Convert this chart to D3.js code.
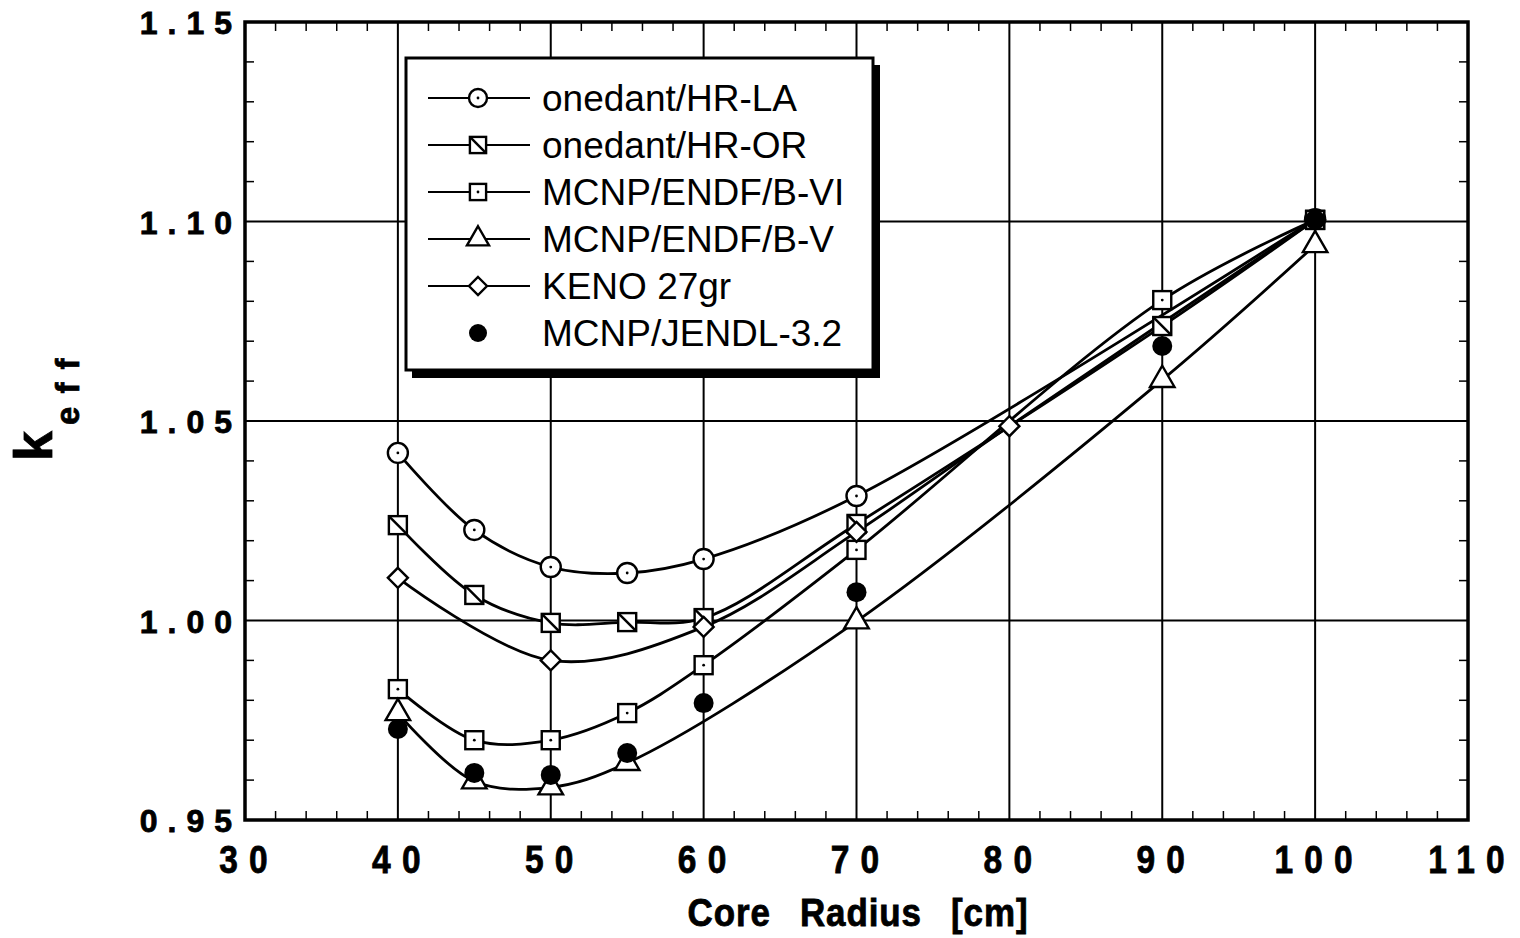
<!DOCTYPE html>
<html lang="en">
<head>
<meta charset="utf-8">
<title>keff vs core radius</title>
<script src="https://d3js.org/d3.v7.min.js"></script>
<style>
body { margin: 0; background: #fff; }
.tick-label { font-family: "Liberation Sans", Arial, sans-serif; font-weight: bold; fill: #000; stroke: #000; stroke-width: 0.8px; }
.legend text { font-family: "Liberation Sans", Arial, sans-serif; font-size: 37px; }
</style>
</head>
<body>
<script>
// radius [cm] and keff for each calculation
var hrLaX = [40, 45, 50, 55, 60, 70, 100];
var hrLaY = [1.0420, 1.0227, 1.0134, 1.0119, 1.0154, 1.0312, 1.1006];
var hrOrX = [40, 45, 50, 55, 60, 70, 90, 100];
var hrOrY = [1.0239, 1.0064, 0.9994, 0.9996, 1.0006, 1.0242, 1.0738, 1.1004];
var b6X = [40, 45, 50, 55, 60, 70, 90, 100];
var b6Y = [0.9828, 0.9700, 0.9700, 0.9768, 0.9888, 1.0177, 1.0803, 1.1004];
var b5X = [40, 45, 50, 55, 70, 90, 100];
var b5Y = [0.9768, 0.9597, 0.9582, 0.9643, 0.9998, 1.0603, 1.0941];
var kenoX = [40, 50, 60, 70, 80, 100];
var kenoY = [1.0107, 0.9900, 0.9984, 1.0222, 1.0487, 1.1004];
var jendlX = [40, 45, 50, 55, 60, 70, 90, 100];
var jendlY = [0.9728, 0.9618, 0.9613, 0.9668, 0.9793, 1.0071, 1.0688, 1.1004];

var xTicks = [30, 40, 50, 60, 70, 80, 90, 100, 110];
var yTicks = [0.95, 1.00, 1.05, 1.10, 1.15];

var seriesNames = ["onedant/HR-LA", "onedant/HR-OR", "MCNP/ENDF/B-VI", "MCNP/ENDF/B-V", "KENO 27gr", "MCNP/JENDL-3.2"];

function zip(xs, ys) { return xs.map(function(d, i) { return [d, ys[i]]; }); }

var series = [
  {name: seriesNames[0], marker: "circle", line: true, pts: zip(hrLaX, hrLaY)},
  {name: seriesNames[1], marker: "sqdiag", line: true, pts: zip(hrOrX, hrOrY)},
  {name: seriesNames[2], marker: "sqdot", line: true, pts: zip(b6X, b6Y)},
  {name: seriesNames[3], marker: "triangle", line: true, pts: zip(b5X, b5Y)},
  {name: seriesNames[4], marker: "diamond", line: true, pts: zip(kenoX, kenoY)},
  {name: seriesNames[5], marker: "filled", line: false, pts: zip(jendlX, jendlY)}
];

var W = 1520, H = 938;
var pL = 245, pR = 1468, pT = 22, pB = 820;

var svg = d3.select("body").append("svg").attr("width", W).attr("height", H);

var x = d3.scaleLinear().domain([30, 110]).range([pL, pR]);
var y = d3.scaleLinear().domain([0.95, 1.15]).range([pB, pT]);

// grid
svg.append("g").selectAll("line").data(xTicks.slice(1, -1)).enter().append("line")
  .attr("x1", function(d) { return x(d); }).attr("x2", function(d) { return x(d); })
  .attr("y1", pT).attr("y2", pB).attr("stroke", "#000").attr("stroke-width", 2);
svg.append("g").selectAll("line").data(yTicks.slice(1, -1)).enter().append("line")
  .attr("y1", function(d) { return y(d); }).attr("y2", function(d) { return y(d); })
  .attr("x1", pL).attr("x2", pR).attr("stroke", "#000").attr("stroke-width", 2);

// minor ticks on all four sides
var xMinor = d3.range(32, 110, 2).filter(function(d) { return d % 10 !== 0; });
var yMinor = d3.range(96, 115).filter(function(d) { return d % 5 !== 0; }).map(function(d) { return d / 100; });
var tk = svg.append("g").attr("stroke", "#000").attr("stroke-width", 1.5);
xMinor.forEach(function(d) {
  tk.append("line").attr("x1", x(d)).attr("x2", x(d)).attr("y1", pB).attr("y2", pB - 9);
  tk.append("line").attr("x1", x(d)).attr("x2", x(d)).attr("y1", pT).attr("y2", pT + 9);
});
yMinor.forEach(function(d) {
  tk.append("line").attr("y1", y(d)).attr("y2", y(d)).attr("x1", pL).attr("x2", pL + 9);
  tk.append("line").attr("y1", y(d)).attr("y2", y(d)).attr("x1", pR).attr("x2", pR - 9);
});

// frame
svg.append("rect").attr("x", pL).attr("y", pT).attr("width", pR - pL).attr("height", pB - pT)
  .attr("fill", "none").attr("stroke", "#000").attr("stroke-width", 3.5);

// tick labels
svg.append("g").selectAll("text").data(yTicks).enter().append("text")
  .attr("class", "tick-label")
  .attr("x", 242).attr("y", function(d) { return y(d) + 12; })
  .attr("text-anchor", "end").attr("font-size", 32).attr("letter-spacing", "10px")
  .text(function(d) { return d3.format(".2f")(d); });

svg.append("g").selectAll("text").data(xTicks).enter().append("text")
  .attr("class", "tick-label")
  .attr("transform", function(d) { return "translate(" + (x(d) + 4) + ",873) scale(0.86,1)"; })
  .attr("text-anchor", "middle").attr("font-size", 39).attr("letter-spacing", "13px")
  .text(function(d) { return String(d); });

svg.append("text").attr("class", "tick-label")
  .attr("transform", "translate(858,926) scale(0.92,1)")
  .attr("text-anchor", "middle").attr("font-size", 38)
  .attr("letter-spacing", "1px").attr("word-spacing", "20px")
  .text("Core Radius [cm]");

// y title k_eff
var yt = svg.append("text").attr("class", "tick-label")
  .attr("transform", "translate(52,461) rotate(-90)");
yt.append("tspan").attr("font-size", 54).text("k");
yt.append("tspan").attr("font-size", 33).attr("dy", 27).attr("dx", 6).attr("letter-spacing", "13px").text("eff");

// curves
var line = d3.line()
  .x(function(d) { return x(d[0]); })
  .y(function(d) { return y(d[1]); })
  .curve(d3.curveCatmullRom.alpha(0.5));

svg.append("g").selectAll("path").data(series.filter(function(s) { return s.line; })).enter()
  .append("path").attr("d", function(s) { return line(s.pts); })
  .attr("fill", "none").attr("stroke", "#000").attr("stroke-width", 2.8);

function drawMarker(g, type, sc) {
  var sw = 2.4, k = sc || 1;
  if (type === "circle") {
    g.append("circle").attr("r", 10 * k).attr("fill", "#fff").attr("stroke", "#000").attr("stroke-width", sw);
    g.append("circle").attr("r", 1.4).attr("fill", "#000");
  } else if (type === "sqdiag" || type === "sqdot") {
    var h = 9 * k;
    g.append("rect").attr("x", -h).attr("y", -h).attr("width", 2 * h).attr("height", 2 * h)
      .attr("fill", "#fff").attr("stroke", "#000").attr("stroke-width", sw);
    if (type === "sqdiag") {
      g.append("line").attr("x1", -h).attr("y1", -h).attr("x2", h).attr("y2", h)
        .attr("stroke", "#000").attr("stroke-width", sw);
    } else {
      g.append("circle").attr("r", 1.4).attr("fill", "#000");
    }
  } else if (type === "triangle") {
    g.append("path").attr("d", d3.symbol(d3.symbolTriangle, 260 * k * k))
      .attr("fill", "#fff").attr("stroke", "#000").attr("stroke-width", sw);
  } else if (type === "diamond") {
    var r = 10 * k;
    g.append("path").attr("d", "M0," + (-r) + "L" + r + ",0L0," + r + "L" + (-r) + ",0Z")
      .attr("fill", "#fff").attr("stroke", "#000").attr("stroke-width", sw);
  } else if (type === "filled") {
    g.append("circle").attr("r", 10 * k).attr("fill", "#000");
  }
}

series.forEach(function(s) {
  var g = svg.append("g");
  s.pts.forEach(function(p) {
    drawMarker(g.append("g").attr("transform", "translate(" + x(p[0]) + "," + y(p[1]) + ")"), s.marker);
  });
});

// legend
var lg = svg.append("g").attr("class", "legend");
lg.append("rect").attr("x", 412).attr("y", 65).attr("width", 468).attr("height", 313).attr("fill", "#000");
lg.append("rect").attr("x", 406).attr("y", 58).attr("width", 467).attr("height", 312)
  .attr("fill", "#fff").attr("stroke", "#000").attr("stroke-width", 3);
var ly = d3.scalePoint().domain(seriesNames).range([98, 333]);
series.forEach(function(s) {
  var cy = ly(s.name);
  if (s.line) {
    lg.append("line").attr("x1", 428).attr("x2", 530).attr("y1", cy).attr("y2", cy)
      .attr("stroke", "#000").attr("stroke-width", 2);
  }
  drawMarker(lg.append("g").attr("transform", "translate(478," + cy + ")"), s.marker, 0.9);
  lg.append("text").attr("x", 542).attr("y", cy + 13).text(s.name);
});
</script>
</body>
</html>
